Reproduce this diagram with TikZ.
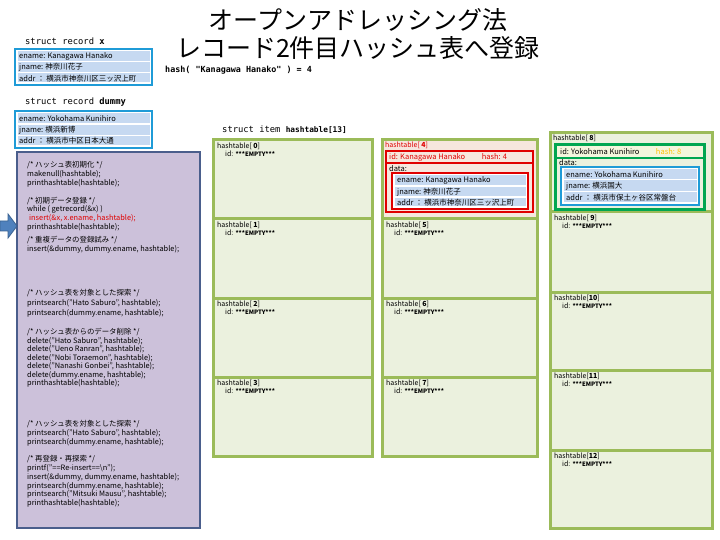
\documentclass[tikz,border=0pt]{standalone}
\usepackage{fontspec}
\setmainfont{Noto Sans CJK JP}
\newfontfamily\monof{DejaVu Sans Mono}
\definecolor{gborder}{HTML}{9BBB59}
\definecolor{cellbg}{HTML}{EBF1DE}
\definecolor{panelbg}{HTML}{CCC1DA}
\definecolor{panelbd}{HTML}{4A5E8C}
\definecolor{recbd}{HTML}{1F9BD7}
\definecolor{recrow}{HTML}{C6D9F1}
\definecolor{redbd}{HTML}{E00000}
\definecolor{pinkbg}{HTML}{F6E7DE}
\definecolor{dgreen}{HTML}{00A651}
\definecolor{hashor}{HTML}{FFC000}
\definecolor{idyel}{HTML}{F3F6DD}
\definecolor{arrowbl}{HTML}{4F81BD}
\definecolor{arrowbd}{HTML}{3A6291}
\newcommand\cln[3]{\node[codeln] (#1) at (27,#2) {#3};}
\begin{document}
\begin{tikzpicture}[x=1pt,y=-1pt,
  hdr/.style={anchor=west,inner sep=0pt,font=\monof\fontsize{8.8}{9}\selectfont},
  rectxt/.style={anchor=west,inner sep=0pt,font=\fontsize{7.5}{8}\selectfont},
  celllab/.style={anchor=west,inner sep=0pt,font=\fontsize{7}{8}\selectfont},
  codeln/.style={anchor=base west,inner sep=0pt,font=\fontsize{7.4}{8}\selectfont},
  gcol/.style={draw=gborder,line width=3pt},
  redbox/.style={draw=redbd,line width=2.2pt},
  recbox/.style={draw=recbd,line width=2pt,fill=white},
  title/.style={inner sep=0pt,font=\fontsize{25}{26}\selectfont}]
\useasboundingbox (0,0) rectangle (720,540);
\fill[white] (0,0) rectangle (720,540);

% title
\node[title] (title1) at (358,20) {オープンアドレッシング法};
\node[title] (title2) at (358,48) {レコード2件目ハッシュ表へ登録};
\node[anchor=west,inner sep=0pt,font=\monof\bfseries\fontsize{8.4}{9}\selectfont] (hashline) at (165,70) {hash( "Kanagawa Hanako" ) = 4};

% record x
\node[hdr] (hx) at (25,41) {struct record \textbf{x}};
\draw[recbox] (15,49) rectangle (152,85);
\fill[recrow] (17.5,51.5) rectangle (149.5,61);
\fill[recrow] (17.5,62.5) rectangle (149.5,72);
\fill[recrow] (17.5,73.5) rectangle (149.5,82.5);
\node[rectxt] (xen) at (19,56.3) {ename: Kanagawa Hanako};
\node[rectxt] (xjn) at (19,67.3) {jname: 神奈川花子};
\node[rectxt] (xad) at (19,78.2) {addr ： 横浜市神奈川区三ッ沢上町};

% record dummy
\node[hdr] (hdummy) at (25,102) {struct record \textbf{dummy}};
\draw[recbox] (15,111) rectangle (152,148);
\fill[recrow] (17.5,113.5) rectangle (149.5,123.5);
\fill[recrow] (17.5,125) rectangle (149.5,135);
\fill[recrow] (17.5,136.5) rectangle (149.5,145.5);
\node[rectxt] (den) at (19,118.5) {ename: Yokohama Kunihiro};
\node[rectxt] (djn) at (19,130) {jname: 横浜新博};
\node[rectxt] (dad) at (19,141) {addr ： 横浜市中区日本大通};

% code panel
\draw[draw=panelbd,fill=panelbg,line width=1.5pt] (17,152) rectangle (200,528);
\draw[fill=arrowbl,draw=arrowbd,line width=0.8pt] (0,221)--(8,221)--(8,214)--(17,226)--(8,238)--(8,231)--(0,231)--cycle;

\cln{k1}{167.5}{/* ハッシュ表初期化 */}
\cln{k2}{176.5}{makenull(hashtable);}
\cln{k3}{185.5}{printhashtable(hashtable);}
\cln{k4}{203.5}{/* 初期データ登録 */}
\cln{k5}{211.5}{while ( getrecord(\&x) )}
\node[codeln,text=redbd] (k6) at (29,220.5) {insert(\&x, x.ename, hashtable);};
\cln{k7}{229.5}{printhashtable(hashtable);}
\cln{k8}{242.5}{/* 重複データの登録試み */}
\cln{k9}{251.5}{insert(\&dummy, dummy.ename, hashtable);}
\cln{k10}{295.5}{/* ハッシュ表を対象とした探索 */}
\cln{k11}{305.5}{printsearch("Hato Saburo", hashtable);}
\cln{k12}{315}{printsearch(dummy.ename, hashtable);}
\cln{k13}{334.5}{/* ハッシュ表からのデータ削除 */}
\cln{k14}{343.5}{delete("Hato Saburo", hashtable);}
\cln{k15}{351.5}{delete("Ueno Ranran", hashtable);}
\cln{k16}{360.5}{delete("Nobi Toraemon", hashtable);}
\cln{k17}{368.5}{delete("Nanashi Gonbei", hashtable);}
\cln{k18}{377.5}{delete(dummy.ename, hashtable);}
\cln{k19}{385.5}{printhashtable(hashtable);}
\cln{k20}{426.5}{/* ハッシュ表を対象とした探索 */}
\cln{k21}{435.5}{printsearch("Hato Saburo", hashtable);}
\cln{k22}{444.5}{printsearch(dummy.ename, hashtable);}
\cln{k23}{461.5}{/* 再登録・再探索 */}
\cln{k24}{470.5}{printf("==Re-insert==\textbackslash n");}
\cln{k25}{479.5}{insert(\&dummy, dummy.ename, hashtable);}
\cln{k26}{488.5}{printsearch(dummy.ename, hashtable);}
\cln{k27}{496.5}{printsearch("Mitsuki Mausu", hashtable);}
\cln{k28}{505.5}{printhashtable(hashtable);}

% hash table header
\node[hdr] (hitem) at (222,130) {struct item {\bfseries\fontsize{7.8}{8}\selectfont hashtable[13]}};

% columns background
\fill[cellbg] (213,140) rectangle (372,456);
\fill[cellbg] (382,140) rectangle (537,456);
\fill[pinkbg] (382,140) rectangle (537,219);
\fill[cellbg] (550,133) rectangle (712,528);
% separators
\foreach \yy in {219,298,377} {\draw[gcol] (213,\yy) -- (372,\yy); \draw[gcol] (382,\yy) -- (537,\yy);}
\foreach \yy in {212,292,370,450} {\draw[gcol] (550,\yy) -- (712,\yy);}
\draw[gcol] (213,140) rectangle (372,456);
\draw[gcol] (382,140) rectangle (537,456);
\draw[gcol] (550,133) rectangle (712,528);

% empty cells
\foreach \nm/\d/\x/\y in {c0/0/213/140, c1/1/213/219, c2/2/213/298, c3/3/213/377,
  c5/5/382/219, c6/6/382/298, c7/7/382/377,
  c9/9/550/212, c10/10/550/292, c11/11/550/370, c12/12/550/450}
{
  \node[celllab] (\nm-lab) at (\x+4,\y+6) {hashtable[\ifnum\d<10\ \fi\textbf{\d}]};
  \node[celllab] (\nm-id) at (\x+12,\y+14) {id: {\bfseries\fontsize{6}{6}\selectfont ***EMPTY***}};
}

% cell 4
\node[celllab,text=redbd] (c4-lab) at (385,145.5) {hashtable[ \textbf{4}]};
\draw[redbox] (386,151) rectangle (533,163);
\node[rectxt,text=redbd] (c4-id) at (389,157.2) {id: Kanagawa Hanako\hspace{2.2em}hash: 4};
\draw[redbox] (386,163) rectangle (533,212);
\node[rectxt] (c4-data) at (389,168.5) {data:};
\draw[redbox,fill=white] (392,173) rectangle (528,209);
\fill[recrow] (394.5,175.5) rectangle (525.5,185.5);
\fill[recrow] (394.5,187) rectangle (525.5,196.5);
\fill[recrow] (394.5,198) rectangle (525.5,206.5);
\node[rectxt] (c4-en) at (397,180.5) {ename: Kanagawa Hanako};
\node[rectxt] (c4-jn) at (397,191.8) {jname: 神奈川花子};
\node[rectxt] (c4-ad) at (397,202.3) {addr ： 横浜市神奈川区三ッ沢上町};

% cell 8
\node[celllab] (c8-lab) at (553,138.5) {hashtable[ \textbf{8}]};
\fill[idyel] (555,145) rectangle (704,158);
\draw[draw=dgreen,line width=3pt] (555,145) rectangle (704,210);
\draw[draw=dgreen,line width=2pt] (555,158) -- (704,158);
\node[rectxt] (c8-id) at (560,152) {id: Yokohama Kunihiro\hspace{2.2em}\textcolor{hashor}{hash: 8}};
\node[rectxt] (c8-data) at (559,163) {data:};
\draw[recbox] (561,167) rectangle (699,205);
\fill[recrow] (563.5,169.5) rectangle (696.5,179);
\fill[recrow] (563.5,180.5) rectangle (696.5,191);
\fill[recrow] (563.5,192.5) rectangle (696.5,202.5);
\node[rectxt] (c8-en) at (566,174.3) {ename: Yokohama Kunihiro};
\node[rectxt] (c8-jn) at (566,185.8) {jname: 横浜国大};
\node[rectxt] (c8-ad) at (566,197.5) {addr ： 横浜市保土ヶ谷区常盤台};
\end{tikzpicture}
\end{document}
